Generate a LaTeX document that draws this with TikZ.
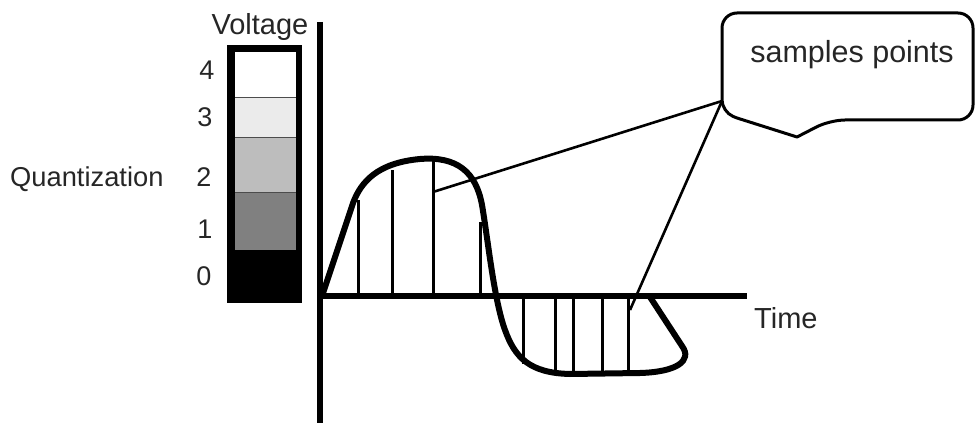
\documentclass[tikz,border=0pt]{standalone}
\usepackage{fontspec}
\setmainfont{Liberation Sans}
\usepackage{xcolor}
\usepackage{tikz}
\usetikzlibrary{calc, positioning}

\begin{document}
\begin{tikzpicture}[x=1pt, y=-1pt, >=latex, line join=round]
    % Styles
    \tikzstyle{lbl} = [inner sep=0pt, text=black!85, font=\fontsize{29}{31}\selectfont]
    \tikzstyle{digit} = [inner sep=0pt, text=black!85, font=\fontsize{27}{29}\selectfont, anchor=base]
    \tikzstyle{axis} = [draw, line width=6pt]
    \tikzstyle{wave} = [draw, line width=6pt, line cap=round]
    \tikzstyle{sample} = [draw, line width=3pt]
    \tikzstyle{pointer} = [draw, line width=2.6pt]
    \tikzstyle{level} = [draw=black!70, line width=0.8pt]

    \useasboundingbox (0,0) rectangle (976,427);

    % Quantization bar
    \fill [black] (227,45) rectangle (302,303);
    \fill [white] (235,52) rectangle (296,97);
    \fill [black!8] (235,97) rectangle (296,137);
    \fill [black!26] (235,137) rectangle (296,192);
    \fill [black!50] (235,192) rectangle (296,250);
    \draw [level] (235,97) -- (296,97);
    \draw [level] (235,137) -- (296,137);
    \draw [level] (235,192) -- (296,192);

    % Nodes
    \node [lbl, anchor=base] (voltage) at (260,35) {Voltage};
    \node [digit] (q4) at (207,80) {4};
    \node [digit] (q3) at (205,127) {3};
    \node [digit] (q2) at (204,187) {2};
    \node [digit] (q1) at (205,239) {1};
    \node [digit] (q0) at (204,286) {0};
    \node [lbl, anchor=base west, font=\fontsize{27.3}{29}\selectfont] (quant) at (10,187) {Quantization};
    \node [lbl, anchor=base west] (time) at (754,328) {Time};
    \node [lbl, anchor=base, font=\fontsize{30.5}{32}\selectfont] (samples) at (852,63) {samples points};

    % Axes
    \coordinate (vtop) at (320,22);
    \coordinate (vbot) at (320,423);
    \coordinate (orig) at (320,296);
    \coordinate (tend) at (747,296);
    \draw [axis] (vtop) -- (vbot);
    \draw [axis] (orig) -- (tend);

    % Signal
    \draw [wave] (322,296) -- (353,203)
        .. controls (361,182) and (377,163) .. (420,159)
        .. controls (457,156) and (476,172) .. (482,205)
        .. controls (488,240) and (494,300) .. (505,330)
        .. controls (515,358) and (530,373) .. (570,374)
        -- (640,373)
        .. controls (676,372) and (693,361) .. (682,346)
        -- (650,297);

    % Samples
    \foreach \x/\y in {358/200, 392/170, 433/160, 480/222}
        \draw [sample] (\x,296) -- (\x,\y);
    \foreach \x/\y in {523/364, 555/373, 573/374, 602/374, 628/373}
        \draw [sample] (\x,296) -- (\x,\y);

    % Callout
    \coordinate (s1) at (433,192);
    \coordinate (s2) at (630,310);
    \coordinate (tip) at (722,101);
    \draw [line width=3pt] (tip) [rounded corners=15pt] -- (722,13) -- (973,13) -- (973,120) -- (830,120)
        [sharp corners] -- (797,137) -- (737,118) [rounded corners=12pt] -- (722,112) -- (tip);
    \draw [pointer] (s1) -- (tip);
    \draw [pointer] (s2) -- (tip);
\end{tikzpicture}
\end{document}
